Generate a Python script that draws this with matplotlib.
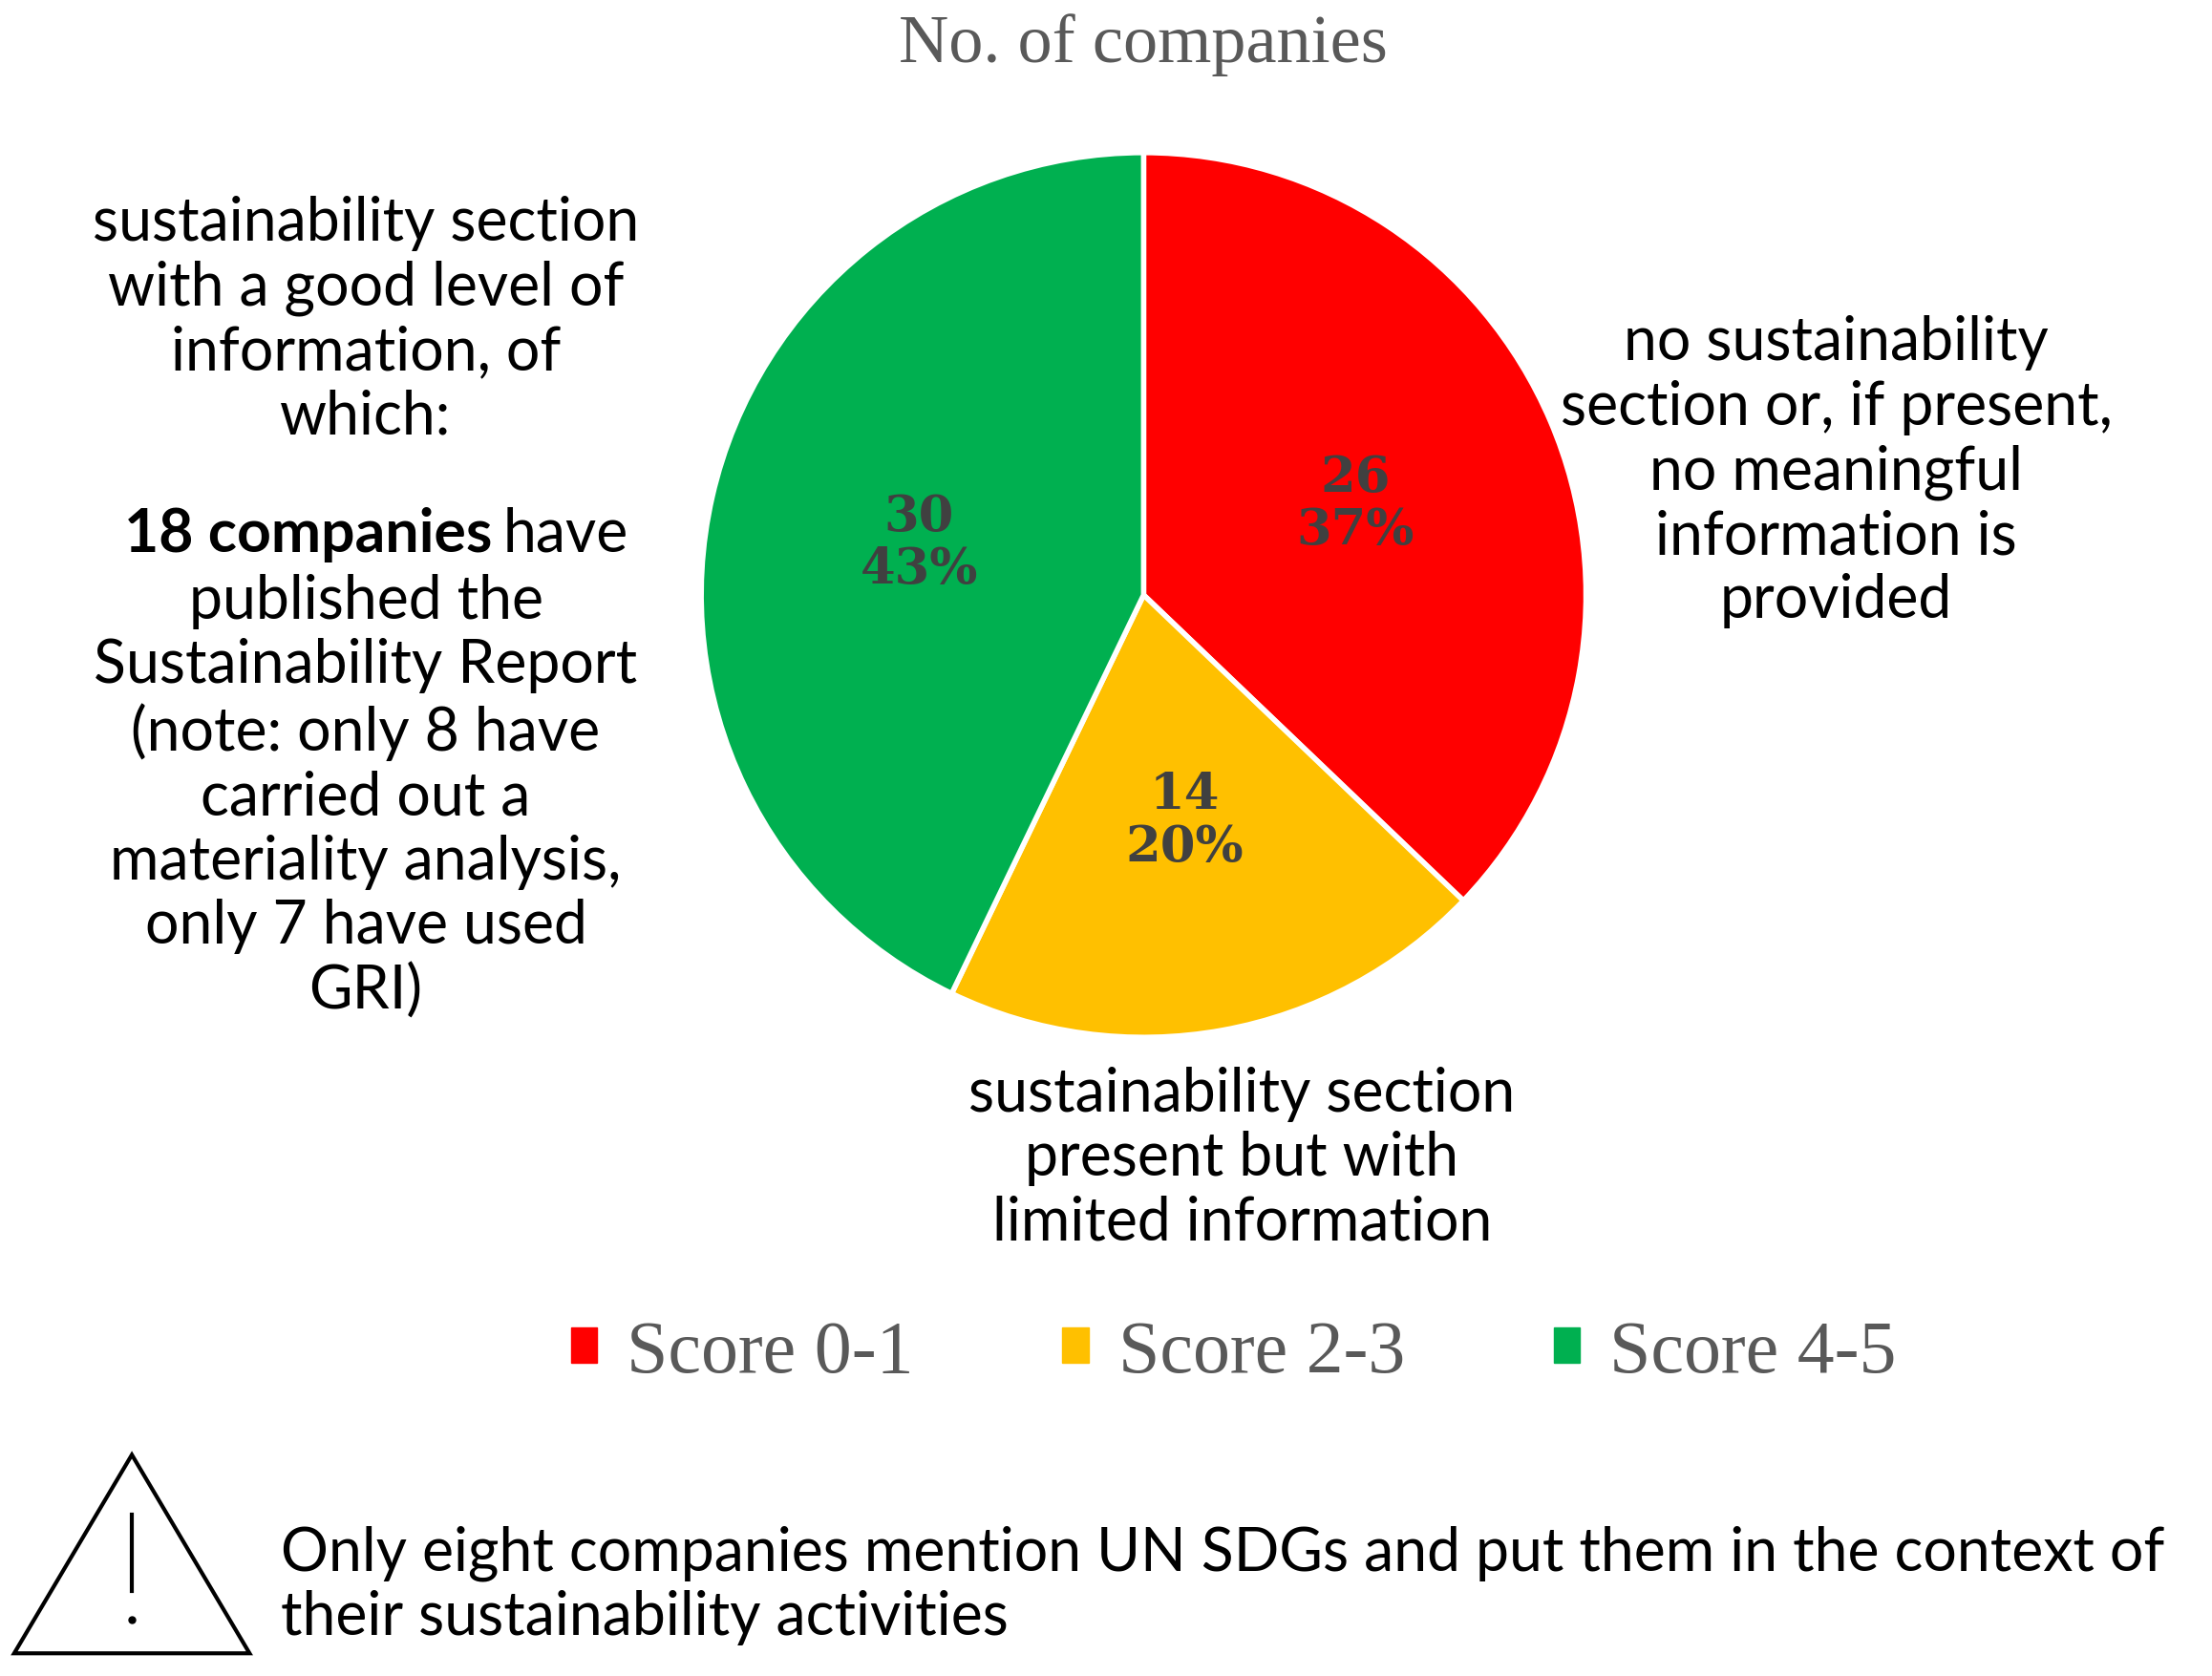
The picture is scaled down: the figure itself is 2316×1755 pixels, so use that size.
import matplotlib.pyplot as plt
from matplotlib.patches import Polygon
from matplotlib.lines import Line2D

# data
categories = ['Score 0-1', 'Score 2-3', 'Score 4-5']
counts = [26, 14, 30]
colors = ['#FF0000', '#FFC000', '#00B050']

W, H = 1560, 1182  # reference layout size used for placement

fig = plt.figure(figsize=(23.16, 17.55), dpi=100)
ax = fig.add_axes([0.317, 0.381, 0.4, 0.528])

total = sum(counts)
wedges, texts, autotexts = ax.pie(
    counts, colors=colors, startangle=90, counterclock=False,
    wedgeprops=dict(edgecolor='white', linewidth=4),
    autopct=lambda p: '{:.0f}\n{:.0f}%'.format(p * total / 100, p),
    pctdistance=0.52,
    textprops=dict(family='DejaVu Serif', fontsize=38, fontweight='bold',
                   color='#404040', linespacing=1.1))
ax.set_aspect('equal')
ax.set_xlim(-1.0, 1.0)
ax.set_ylim(-1.0, 1.0)

def fx(x):
    return x / W

def fy(y):
    return 1 - y / H

fig.text(fx(806), fy(32), 'No. of companies', family='Liberation Serif',
         fontsize=52, color='#595959', ha='center', va='center')

sans = 'Lato'
fs = 45
fig.text(fx(1295), fy(333),
         'no sustainability\nsection or, if present,\nno meaningful\ninformation is\nprovided',
         family=sans, fontsize=fs, ha='center', va='center', linespacing=1.2)
fig.text(fx(876), fy(817),
         'sustainability section\npresent but with\nlimited information',
         family=sans, fontsize=fs, ha='center', va='center', linespacing=1.2)
fig.text(fx(258), fy(226),
         'sustainability section\nwith a good level of\ninformation, of\nwhich:',
         family=sans, fontsize=fs, ha='center', va='center', linespacing=1.2)
fig.text(fx(347), fy(377), '18 companies', family=sans, fontweight='bold',
         fontsize=fs, ha='right', va='center')
fig.text(fx(355), fy(377), 'have', family=sans, fontsize=fs,
         ha='left', va='center')
fig.text(fx(258), fy(562),
         'published the\nSustainability Report\n(note: only 8 have\ncarried out a\nmateriality analysis,\nonly 7 have used\nGRI)',
         family=sans, fontsize=fs, ha='center', va='center', linespacing=1.2)

# legend
handles = [plt.Rectangle((0, 0), 1, 1, color=c) for c in colors]
fig.legend(handles, categories, loc='center', bbox_to_anchor=(fx(870), fy(955)),
           ncol=3, frameon=False, prop=dict(family='Liberation Serif', size=56),
           labelcolor='#595959', handlelength=0.35, handleheight=0.35,
           columnspacing=2.0, handletextpad=0.4)

# warning triangle
tri = Polygon([[fx(10), fy(1166)], [fx(176), fy(1166)], [fx(93), fy(1026)]],
              closed=True, fill=False, edgecolor='black', linewidth=3,
              transform=fig.transFigure)
fig.add_artist(tri)
fig.add_artist(Line2D([fx(93), fx(93)], [fy(1068), fy(1122)], color='black',
                      linewidth=3, transform=fig.transFigure))
fig.add_artist(Line2D([fx(93)], [fy(1142)], marker='o', markersize=5,
                      color='black', transform=fig.transFigure))
fig.text(fx(198), fy(1118),
         'Only eight companies mention UN SDGs and put them in the context of\ntheir sustainability activities',
         family=sans, fontsize=fs, ha='left', va='center', linespacing=1.2)

fig.savefig('out.png', dpi=100, facecolor='white')
